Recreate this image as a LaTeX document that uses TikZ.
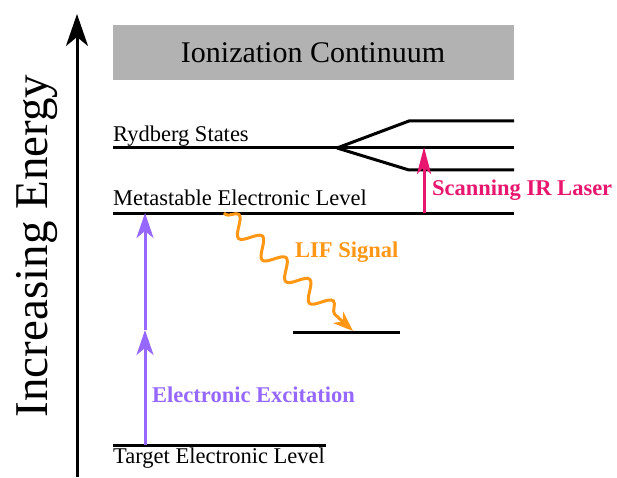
\documentclass[tikz,border=0pt]{standalone}
\usepackage{fontspec}
\setmainfont{Liberation Serif}
\usetikzlibrary{arrows.meta,decorations.pathmorphing}
\definecolor{boxgray}{RGB}{178,178,178}
\definecolor{pinklaser}{RGB}{232,22,110}
\definecolor{purpexc}{RGB}{150,104,255}
\definecolor{oranglif}{RGB}{255,150,20}
\tikzset{
  level/.style={line width=3pt},
  lbl/.style={font=\fontsize{22.5}{24}\selectfont, anchor=base west, inner sep=0pt},
  blbl/.style={font=\fontsize{22.5}{24}\selectfont\bfseries, anchor=base west, inner sep=0pt},
  bigarrow/.style={line width=3pt, -{Stealth[length=32pt,width=22pt,inset=9pt]}},
  excarrow/.style={purpexc, line width=3pt, -{Stealth[length=25pt,width=17pt,inset=7pt]}},
  laserarrow/.style={pinklaser, line width=3pt, -{Stealth[length=27pt,width=14pt,inset=7pt]}},
  lifarrow/.style={oranglif, line width=3pt, -{Stealth[length=20pt,width=15pt,inset=6pt]},
    decorate, decoration={snake, amplitude=9pt, segment length=32pt, pre length=2pt, post length=16pt}}
}
\begin{document}
\begin{tikzpicture}[x=1pt,y=1pt]
\useasboundingbox (0,0) rectangle (617,477);
% energy axis
\coordinate (axb) at (77,0);
\coordinate (axt) at (77,463);
\draw[bigarrow] (axb) -- (axt);
\node[font=\fontsize{47}{50}\selectfont, rotate=90, anchor=base, inner sep=0pt] (energy) at (47,231) {Increasing Energy};
% continuum
\node[fill=boxgray, minimum width=401pt, minimum height=55pt, inner sep=0pt, anchor=south west] (cont) at (112.5,397) {};
\node[font=\fontsize{30}{32}\selectfont, inner sep=0pt, anchor=base] (conttext) at (313,414) {Ionization Continuum};
% Rydberg states
\coordinate (ryL) at (113,329);
\coordinate (rySplit) at (337,329);
\coordinate (ryUpK) at (409,356);
\coordinate (ryUpE) at (514,356);
\coordinate (ryMidE) at (514,329);
\coordinate (ryLoK) at (409,307);
\coordinate (ryLoE) at (514,307);
\draw[level, line join=miter] (ryL) -- (rySplit) -- (ryMidE);
\draw[level, line join=miter] (rySplit) -- (ryUpK) -- (ryUpE);
\draw[level, line join=miter] (rySplit) -- (ryLoK) -- (ryLoE);
\node[lbl] (rytext) at (113,335) {Rydberg States};
% Metastable level
\coordinate (meL) at (113,264);
\coordinate (meR) at (514,264);
\draw[level] (meL) -- (meR);
\node[lbl] (metext) at (113,272) {Metastable Electronic Level};
% lower LIF level
\coordinate (lfL) at (293,145);
\coordinate (lfR) at (400,145);
\draw[level] (lfL) -- (lfR);
% Target level
\coordinate (taL) at (113,32);
\coordinate (taR) at (326,32);
\draw[level] (taL) -- (taR);
\node[lbl] (tatext) at (113,14) {Target Electronic Level};
% excitation arrow
\coordinate (exA) at (145,32);
\coordinate (exM) at (145,147);
\coordinate (exB) at (145,264);
\draw[excarrow] (exA) -- (exM);
\draw[excarrow] (exM) -- (exB);
\node[blbl, text=purpexc] (extext) at (152,75) {Electronic Excitation};
% laser arrow
\coordinate (laA) at (424,264);
\coordinate (laB) at (424,330);
\draw[laserarrow] (laA) -- (laB);
\node[blbl, text=pinklaser] (latext) at (432,282) {Scanning IR Laser};
% LIF signal
\coordinate (liA) at (224,264);
\coordinate (liB) at (353,146);
\draw[lifarrow] (liA) -- (liB);
\node[blbl, text=oranglif] (litext) at (295,220) {LIF Signal};
\end{tikzpicture}
\end{document}
